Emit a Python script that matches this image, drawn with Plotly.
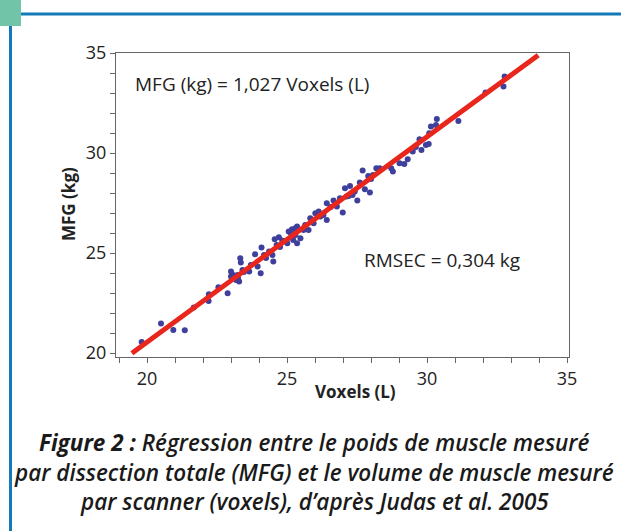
import plotly.graph_objects as go

# Scatter data: Voxels (L) vs MFG (kg)
voxels = [19.81, 20.50, 20.94, 21.35, 21.67, 22.21, 22.20, 22.55, 22.88, 23.00,
          23.00, 23.08, 23.12, 23.18, 23.24, 23.29, 23.33, 23.35, 23.41, 23.65,
          23.71, 23.86, 23.95, 24.06, 24.09, 24.18, 24.36, 24.48, 24.51, 24.56,
          24.63, 24.71, 24.83, 25.01, 25.12, 25.22, 25.30, 25.36, 25.06, 25.18,
          25.30, 25.36, 25.48, 25.59, 25.77, 25.83, 25.95, 26.01, 26.13, 26.19,
          26.42, 26.42, 26.66, 26.78, 26.89, 26.99, 27.07, 27.13, 27.25, 27.34,
          27.42, 27.51, 27.60, 27.70, 27.78, 27.90, 27.96, 28.07, 28.19, 28.31,
          28.72, 28.78, 29.02, 29.19, 29.31, 29.49, 29.73, 29.80, 29.96, 30.06,
          30.08, 30.14, 30.32, 30.35, 31.12, 32.09, 32.77, 32.73,
          23.25, 23.46, 24.25, 24.75, 25.65, 26.30, 26.55, 27.20, 28.00, 29.60]
mfg = [20.55, 21.47, 21.15, 21.14, 22.27, 22.94, 22.60, 23.29, 22.99, 23.82,
       24.07, 23.90, 23.82, 23.65, 23.90, 23.57, 24.74, 24.52, 24.15, 24.07,
       24.40, 24.94, 24.32, 23.99, 25.27, 24.90, 25.07, 24.90, 24.57, 25.69,
       25.40, 25.79, 25.62, 25.49, 26.02, 25.65, 26.24, 25.49, 26.07, 26.19,
       25.90, 26.32, 25.74, 26.15, 26.15, 26.74, 26.49, 26.99, 27.07, 26.82,
       26.65, 27.49, 27.62, 27.32, 27.74, 27.02, 28.24, 27.82, 28.35, 27.90,
       28.07, 27.62, 28.52, 29.12, 28.19, 28.85, 28.02, 28.90, 29.24, 29.24,
       29.24, 29.07, 29.49, 29.45, 29.69, 30.07, 30.69, 30.15, 30.40, 30.45,
       30.99, 31.32, 31.40, 31.70, 31.60, 33.02, 33.82, 33.32,
       23.75, 24.05, 24.75, 25.30, 26.40, 26.90, 27.30, 27.85, 28.70, 30.30]

slope = 1.027
line_x = [19.46, 33.97]
line_y = [slope * v for v in line_x]

x_ticks = [20, 25, 30, 35]
y_ticks = [20, 25, 30, 35]

L, R, T, B = 116, 52, 53, 174
W, H = 621, 531
PW, PH = W - L - R, H - T - B


def px(x):
    return (x - L) / PW


def py(y):
    return (H - B - y) / PH


fig = go.Figure()
fig.add_trace(go.Scatter(x=voxels, y=mfg, mode="markers",
                         marker=dict(size=6, color="#3f3f9c", line=dict(width=0)),
                         showlegend=False))
fig.add_trace(go.Scatter(x=line_x, y=line_y, mode="lines",
                         line=dict(color="#e8261c", width=5),
                         showlegend=False))

axis_common = dict(showline=True, linecolor="#666666", linewidth=1, mirror=True,
                   showgrid=False, zeroline=False, ticks="outside", ticklen=5,
                   tickcolor="#666666", tickwidth=1,
                   tickfont=dict(family="Open Sans", size=18, color="#222222"),
                   minor=dict(ticks="outside", ticklen=5, tickcolor="#666666",
                              dtick=1, showgrid=False))

fig.update_xaxes(range=[18.893, 35.07], tickmode="array", tickvals=x_ticks,
                 **axis_common)
fig.update_yaxes(range=[19.8, 35], tickmode="array", tickvals=y_ticks,
                 **axis_common)

fig.update_xaxes(minor_tick0=19)
fig.update_yaxes(minor_tick0=20)

text_font = dict(family="Open Sans", size=19, color="#222222")
title_font = dict(family="Open Sans", size=17, color="#222222")
annotations = [
    dict(text="MFG (kg) = 1,027 Voxels (L)", x=px(133), y=py(84), xanchor="left",
         yanchor="middle", font=text_font),
    dict(text="RMSEC = 0,304 kg", x=px(362), y=py(260), xanchor="left",
         yanchor="middle", font=text_font),
    dict(text="<b>Voxels (L)</b>", x=px(355), y=py(391), xanchor="center",
         yanchor="middle", font=title_font),
    dict(text="<b>MFG (kg)</b>", x=px(68), y=py(204), xanchor="center",
         yanchor="middle", textangle=-90, font=title_font),
]
caption = [
    ("<b><i>Figure 2 :</i></b><i> Régression entre le poids de muscle mesuré</i>", 442),
    ("<i>par dissection totale (MFG) et le volume de muscle mesuré</i>", 472),
    ("<i>par scanner (voxels), d’après Judas et al. 2005</i>", 501),
]
for txt, yy in caption:
    annotations.append(dict(text=txt, x=px(314), y=py(yy), xanchor="center",
                            yanchor="middle",
                            font=dict(family="Open Sans", size=22.5, weight=600,
                                      color="#1a1a1a")))
for a in annotations:
    a.update(xref="paper", yref="paper", showarrow=False)

shapes = [
    dict(type="rect", x0=px(0), x1=px(21), y0=py(0), y1=py(26),
         fillcolor="#72c4a9", line=dict(width=0)),
    dict(type="line", x0=px(21), x1=px(621), y0=py(14), y1=py(14),
         line=dict(color="#1479b8", width=3)),
    dict(type="line", x0=px(10.5), x1=px(10.5), y0=py(26), y1=py(531),
         line=dict(color="#1479b8", width=3)),
]
for s in shapes:
    s.update(xref="paper", yref="paper", layer="above")

fig.update_layout(width=W, height=H, margin=dict(l=L, r=R, t=T, b=B),
                  paper_bgcolor="white", plot_bgcolor="white",
                  annotations=annotations, shapes=shapes,
                  font=dict(family="Open Sans", color="#222222"))

fig.write_html("out.html", config={"displayModeBar": False},
               post_script="document.body.style.margin='0';document.body.style.overflow='hidden';")
